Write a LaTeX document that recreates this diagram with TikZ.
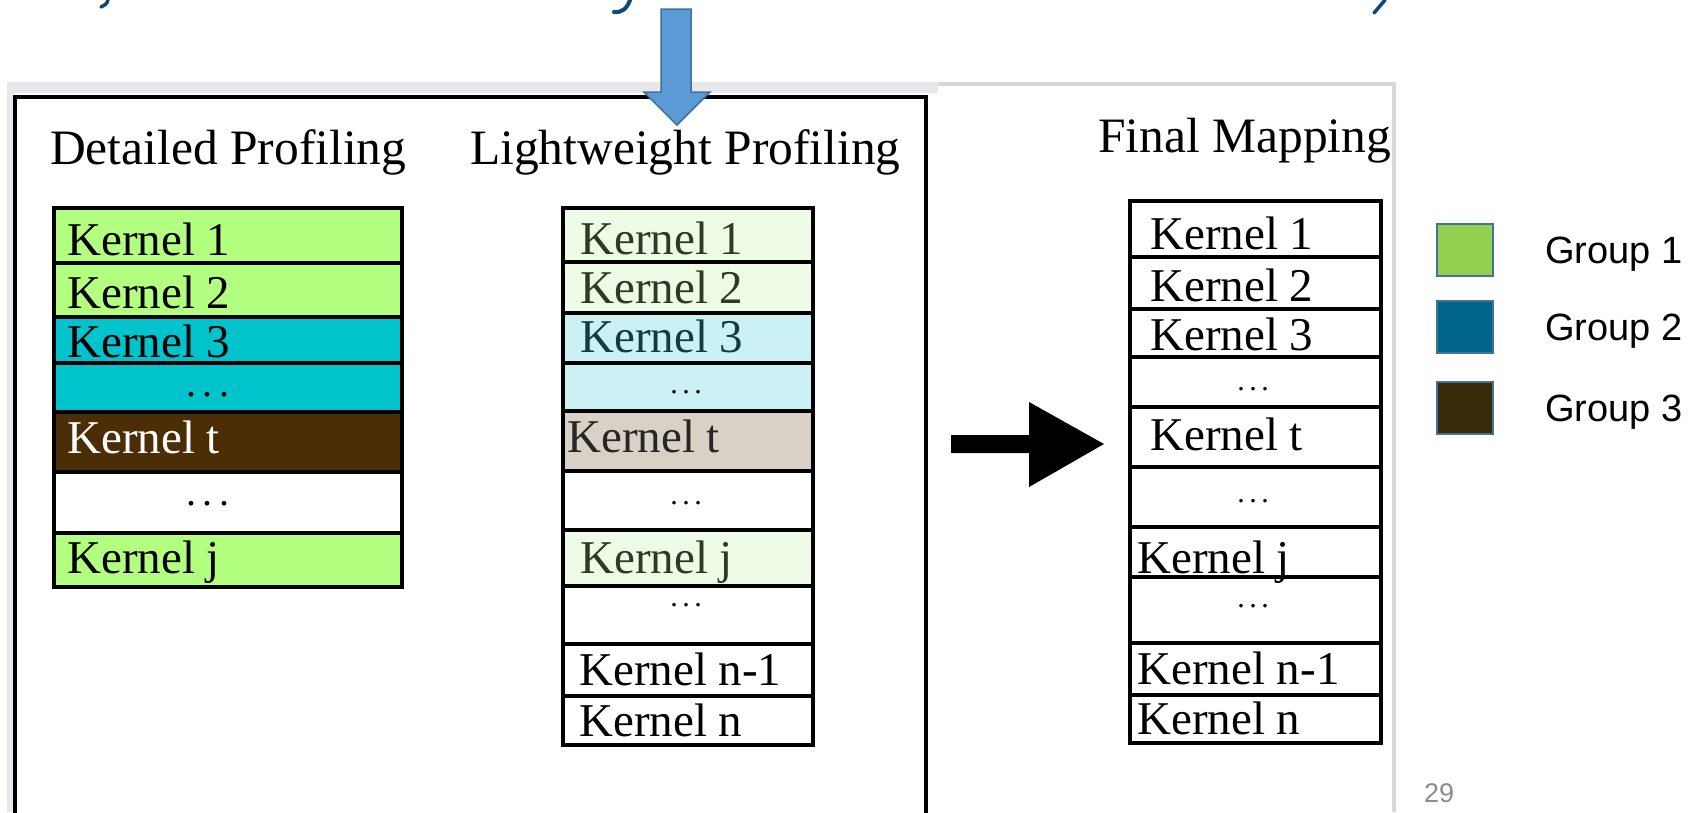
\documentclass[tikz,border=0pt]{standalone}
\usepackage{fontspec}
\setmainfont{Liberation Serif}
\newfontfamily\legendfont{Liberation Sans}

% cell colours
\definecolor{grpA}{HTML}{B3FF80}
\definecolor{grpB}{HTML}{00C3CC}
\definecolor{grpC}{HTML}{4B2D06}
\definecolor{paleA}{HTML}{EEFBE6}
\definecolor{paleB}{HTML}{CBF1F4}
\definecolor{paleC}{HTML}{D9D0C6}
\definecolor{inkA}{HTML}{2C3B22}
\definecolor{inkB}{HTML}{0F3D42}
% legend colours
\definecolor{legA}{HTML}{92D050}
\definecolor{legB}{HTML}{006388}
\definecolor{legC}{HTML}{372A08}
\definecolor{legEdge}{HTML}{41719C}
% slide decoration
\definecolor{slideBlue}{HTML}{0B4A78}
\definecolor{arrowBlue}{HTML}{5B9BD5}
\definecolor{panelGray}{HTML}{E8E8EC}
\definecolor{edgeGray}{HTML}{D8D8DC}

% spaced dot leaders used inside the cells
\newcommand\widedots{.\kern6.5pt.\kern6.5pt.}
\newcommand\narrowdots{.\kern4.5pt.\kern4.5pt.}

\begin{document}
\begin{tikzpicture}[x=1pt,y=-1pt,
  cell/.style={draw=black, line width=3.5pt},
  ktext/.style={anchor=base west, inner sep=0pt, font=\fontsize{47}{50}\selectfont},
  bigdots/.style={anchor=base, inner sep=0pt, font=\fontsize{40}{42}\selectfont},
  smalldots/.style={anchor=base, inner sep=0pt, font=\fontsize{30}{32}\selectfont},
  title/.style={anchor=base west, inner sep=0pt, font=\fontsize{49.5}{52}\selectfont},
  swatch/.style={draw=legEdge, line width=2pt},
  legtext/.style={anchor=base west, inner sep=0pt, font=\legendfont\fontsize{38}{42}\selectfont}]
\useasboundingbox (0,0) rectangle (1694,812);
\clip (0,0) rectangle (1694,812);
\fill[white] (0,0) rectangle (1694,812);

% descenders of the heading line above
\draw[slideBlue, line width=3.5pt, line cap=round] (108,0) .. controls (107,4) and (104,6) .. (101,7);
\draw[slideBlue, line width=4pt, line cap=round] (630,0) .. controls (627,9) and (621,13) .. (614,12);
\draw[slideBlue, line width=3.5pt, line cap=round] (1385,0) -- (1374,13);

% panels
\fill[panelGray] (7,82) rectangle (938,93);
\fill[panelGray] (7,82) rectangle (13,812);
\draw[edgeGray, line width=4pt] (938,84) -- (1394,84) -- (1394,812);
\fill[white] (13,93) rectangle (928,812);
\draw[black, line width=4pt] (15,97) rectangle (926,840);

% column titles
\node[title] (tdet) at (50,164) {Detailed Profiling};
\node[title] (tlight) at (470,164) {Lightweight Profiling};
\node[title] (tfinal) at (1098,152) {Final Mapping};

% detailed profiling column
\foreach \yt/\yb/\fc in {208/263/grpA, 263/317/grpA, 317/363/grpB, 363/412/grpB,
                         412/472/grpC, 472/533/white, 533/587/grpA}
  \draw[cell, fill=\fc] (54,\yt) rectangle (402,\yb);
\node[ktext] (d1) at (67,255) {Kernel 1};
\node[ktext] (d2) at (67,308) {Kernel 2};
\node[ktext] (d3) at (67,357) {Kernel 3};
\node[bigdots] (d4) at (208,396) {\widedots};
\node[ktext, text=white] (d5) at (67,453) {Kernel t};
\node[bigdots] (d6) at (208,505) {\widedots};
\node[ktext] (d7) at (67,573) {Kernel j};

% lightweight profiling column
\foreach \yt/\yb/\fc in {208/262/paleA, 262/313/paleA, 313/363/paleB, 363/411/paleB,
                         411/471/paleC, 471/530/white, 530/586/paleA, 586/644/white,
                         644/696/white, 696/745/white}
  \draw[cell, fill=\fc] (563,\yt) rectangle (813,\yb);
\node[ktext, text=inkA] (l1) at (580,254) {Kernel 1};
\node[ktext, text=inkA] (l2) at (580,303) {Kernel 2};
\node[ktext, text=inkB] (l3) at (580,352) {Kernel 3};
\node[smalldots] (l4) at (686,393) {\narrowdots};
\node[ktext, text=black!85] (l5) at (567,452) {Kernel t};
\node[smalldots] (l6) at (686,504) {\narrowdots};
\node[ktext, text=inkA] (l7) at (580,573) {Kernel j};
\node[smalldots] (l8) at (686,606) {\narrowdots};
\node[ktext] (l9) at (579,685) {Kernel n-1};
\node[ktext] (l10) at (579,736) {Kernel n};

% final mapping column
\foreach \yt/\yb in {201/257, 257/309, 309/357, 357/407, 407/467, 467/527,
                     527/577, 577/643, 643/695, 695/743}
  \draw[cell, fill=white] (1130,\yt) rectangle (1381,\yb);
\node[ktext] (f1) at (1150,249) {Kernel 1};
\node[ktext] (f2) at (1150,301) {Kernel 2};
\node[ktext] (f3) at (1150,350) {Kernel 3};
\node[smalldots] (f4) at (1253,390) {\narrowdots};
\node[ktext] (f5) at (1150,450) {Kernel t};
\node[smalldots] (f6) at (1253,502) {\narrowdots};
\node[ktext] (f7) at (1137,573) {Kernel j};
\node[smalldots] (f8) at (1253,607) {\narrowdots};
\node[ktext] (f9) at (1137,684) {Kernel n-1};
\node[ktext] (f10) at (1137,734) {Kernel n};

% mapping arrow
\fill[black] (951,435) -- (1029,435) -- (1029,402) -- (1104,444) -- (1029,487)
  -- (1029,453) -- (951,453) -- cycle;

% incoming arrow from above
\filldraw[fill=arrowBlue, draw=legEdge, line width=1.5pt]
  (661,9) -- (691,9) -- (691,92) -- (710,92) -- (677,125) -- (644,92) -- (661,92) -- cycle;

% legend
\draw[swatch, fill=legA] (1437,224) rectangle (1493,276);
\draw[swatch, fill=legB] (1437,301) rectangle (1493,353);
\draw[swatch, fill=legC] (1437,382) rectangle (1493,434);
\node[legtext] (g1) at (1545,263) {Group 1};
\node[legtext] (g2) at (1545,340) {Group 2};
\node[legtext] (g3) at (1545,421) {Group 3};

% slide number
\node[anchor=base, inner sep=0pt, text=black!45, font=\legendfont\fontsize{27}{30}\selectfont] (pg) at (1439,802) {29};
\end{tikzpicture}
\end{document}
